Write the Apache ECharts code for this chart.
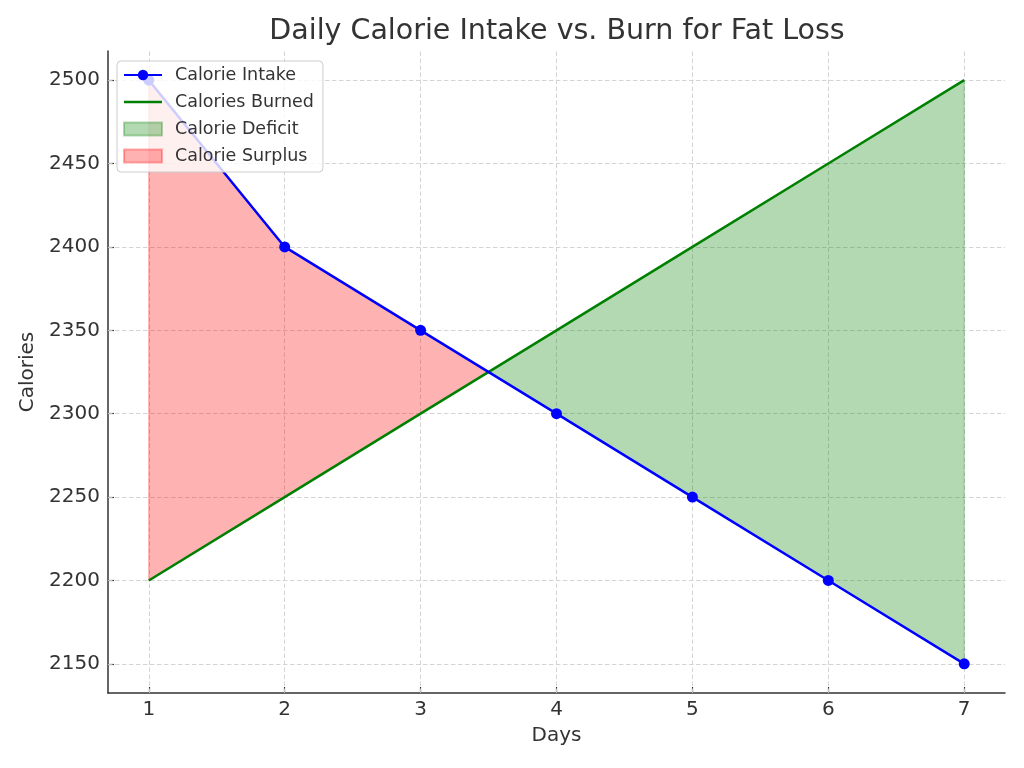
<!DOCTYPE html>
<html>
<head>
<meta charset="utf-8">
<script src="https://cdn.jsdelivr.net/npm/echarts@6/dist/echarts.min.js"></script>
<style>
html,body{margin:0;padding:0;background:#fff;}
#chart{width:1024px;height:768px;}
</style>
</head>
<body>
<div id="chart"></div>
<script>
const titleText = 'Daily Calorie Intake vs. Burn for Fat Loss';
const days = [1, 2, 3, 4, 5, 6, 7];
const intake = [2500, 2400, 2350, 2300, 2250, 2200, 2150];
const burned = [2200, 2250, 2300, 2350, 2400, 2450, 2500];
const yTicks = [2150, 2200, 2250, 2300, 2350, 2400, 2450, 2500];
const seriesNames = ['Calorie Intake', 'Calories Burned', 'Calorie Deficit', 'Calorie Surplus'];

const FONT = 'DejaVu Sans';
const TXT = '#333333';
// plain line legend icon (bbox fixed by two invisible corner dots)
const LINE_ICON = 'path://M0,0h0.01v0.01h-0.01z M38,13h-0.01v-0.01h0.01z M0,5.25h38v2.5h-38z';

function makeFill(name, wantPositive, color) {
  return {
    type: 'custom',
    name: name,
    coordinateSystem: 'cartesian2d',
    z: 2,
    silent: true,
    itemStyle: { color: color, borderColor: color, borderWidth: 1 },
    data: days.map((d, i) => [d, intake[i], burned[i]]),
    encode: { x: 0, y: [1, 2] },
    renderItem: function (params, api) {
      if (params.dataIndex !== 0) return;
      const n = days.length;
      const want = d => wantPositive ? d > 0 : d < 0;
      const polys = [];
      let cur = null;
      for (let i = 0; i < n; i++) {
        const d = intake[i] - burned[i];
        const P = api.coord([days[i], intake[i]]);
        const Q = api.coord([days[i], burned[i]]);
        if (want(d)) {
          if (!cur) cur = { a: [], b: [] };
          cur.a.push(P); cur.b.push(Q);
        }
        if (i < n - 1) {
          const d2 = intake[i + 1] - burned[i + 1];
          if (d * d2 < 0) {
            const t = d / (d - d2);
            const P2 = api.coord([days[i + 1], intake[i + 1]]);
            const X = [P[0] + (P2[0] - P[0]) * t, P[1] + (P2[1] - P[1]) * t];
            if (cur) {
              cur.a.push(X);
              polys.push(cur.a.concat(cur.b.slice().reverse()));
              cur = null;
            } else {
              cur = { a: [X], b: [] };
            }
          }
        }
      }
      if (cur) polys.push(cur.a.concat(cur.b.slice().reverse()));
      return {
        type: 'group',
        children: polys.map(pts => ({
          type: 'polygon',
          shape: { points: pts },
          style: { fill: color, stroke: color, lineWidth: 1 }
        }))
      };
    }
  };
}

const gridLineStyle = { color: '#cfcfcf', width: 0.9, type: [4.5, 2.5] };

const chart = echarts.init(document.getElementById('chart'), null, { renderer: 'canvas' });
chart.setOption({
  animation: false,
  backgroundColor: '#ffffff',
  textStyle: { fontFamily: FONT },
  title: {
    text: titleText,
    left: 557,
    top: 17,
    padding: 0,
    textAlign: 'center',
    textStyle: { fontSize: 28.5, fontWeight: 'normal', color: TXT, fontFamily: FONT }
  },
  legend: {
    orient: 'vertical',
    left: 117,
    top: 61,
    padding: [5, 9, 7, 6],
    backgroundColor: 'rgba(255,255,255,0.8)',
    borderColor: '#cccccc',
    borderWidth: 1,
    borderRadius: 4,
    itemWidth: 38,
    itemHeight: 13,
    itemGap: 9,
    selectedMode: false,
    textStyle: { fontSize: 17.5, color: TXT, fontFamily: FONT, lineHeight: 18, padding: [0, 0, 0, 8] },
    data: [
      { name: seriesNames[0] },
      { name: seriesNames[1], icon: LINE_ICON },
      { name: seriesNames[2], icon: 'rect' },
      { name: seriesNames[3], icon: 'rect' }
    ]
  },
  grid: {
    left: 108,
    right: 19,
    top: 51,
    bottom: 75,
    containLabel: false,
    outerBoundsMode: 'none'
  },
  xAxis: {
    type: 'value',
    min: 0.7,
    max: 7.3,
    name: 'Days',
    nameLocation: 'middle',
    nameGap: 33,
    nameTextStyle: { fontSize: 20, color: TXT, fontFamily: FONT },
    axisLine: { show: true, onZero: false, lineStyle: { color: '#333333', width: 1.5 } },
    axisTick: { show: true, inside: true, length: 6, customValues: days, lineStyle: { color: '#333333', width: 1.2 } },
    axisLabel: { show: true, customValues: days, margin: 7, fontSize: 20, color: TXT, fontFamily: FONT,
      formatter: v => String(v) },
    splitLine: { show: false }
  },
  yAxis: {
    type: 'value',
    min: 2132.5,
    max: 2517.5,
    name: 'Calories',
    nameLocation: 'middle',
    nameRotate: 90,
    nameGap: 61,
    nameTextStyle: { fontSize: 20, color: TXT, fontFamily: FONT },
    axisLine: { show: true, onZero: false, lineStyle: { color: '#333333', width: 1.5 } },
    axisTick: { show: true, inside: true, length: 6, customValues: yTicks, lineStyle: { color: '#333333', width: 1.2 } },
    axisLabel: { show: true, customValues: yTicks, margin: 8, fontSize: 20, color: TXT, fontFamily: FONT,
      formatter: v => String(v) },
    splitLine: { show: false }
  },
  series: [
    {
      type: 'line',
      name: '',
      data: [],
      z: 1,
      silent: true,
      markLine: {
        silent: true,
        symbol: 'none',
        animation: false,
        z: 1,
        label: { show: false },
        emphasis: { disabled: true },
        lineStyle: gridLineStyle,
        data: days.map(d => ({ xAxis: d })).concat(yTicks.map(v => ({ yAxis: v })))
      }
    },
    makeFill(seriesNames[2], false, 'rgba(0,128,0,0.3)'),
    makeFill(seriesNames[3], true, 'rgba(255,0,0,0.3)'),
    {
      type: 'line',
      name: seriesNames[1],
      data: days.map((d, i) => [d, burned[i]]),
      z: 3,
      symbol: 'none',
      lineStyle: { color: '#008000', width: 2.5 },
      itemStyle: { color: '#008000' },
      emphasis: { disabled: true }
    },
    {
      type: 'line',
      name: seriesNames[0],
      data: days.map((d, i) => [d, intake[i]]),
      z: 3,
      symbol: 'circle',
      symbolSize: 11,
      showSymbol: true,
      lineStyle: { color: '#0000ff', width: 2.5 },
      itemStyle: { color: '#0000ff', borderWidth: 0 },
      emphasis: { disabled: true }
    }
  ]
});
</script>
</body>
</html>
